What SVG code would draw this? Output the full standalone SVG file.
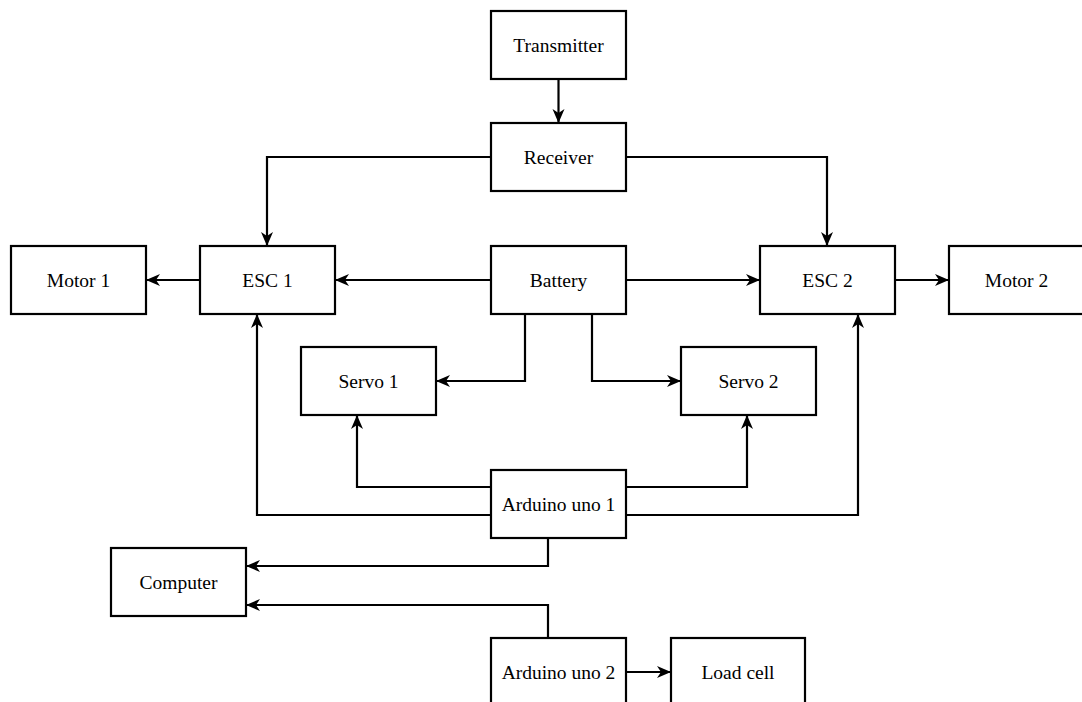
<svg xmlns="http://www.w3.org/2000/svg" width="1082" height="702" viewBox="0 0 1082 702">
<style>
.box{fill:#fff;stroke:#000;stroke-width:2.2}
.lbl{font-family:"Liberation Serif","Times New Roman",serif;font-size:19.5px;fill:#000;text-anchor:middle}
.c{fill:none;stroke:#000;stroke-width:2.2;marker-end:url(#arr)}
</style>
<defs>
<marker id="arr" markerUnits="userSpaceOnUse" markerWidth="15" markerHeight="13" refX="14" refY="6.5" orient="auto" viewBox="0 0 15 13">
<path d="M0 0.5 L14 6.5 L0 12.5 L4 6.5 Z" fill="#000"/>
</marker>
</defs>
<rect width="1082" height="702" fill="#fff"/>
<g id="connectors">
<path class="c" d="M558.5 79 V123"/>
<path class="c" d="M491 157 H267 V246"/>
<path class="c" d="M626 157 H827 V246"/>
<path class="c" d="M200 280 H146"/>
<path class="c" d="M491 280 H335"/>
<path class="c" d="M626 280 H760"/>
<path class="c" d="M895 280 H949"/>
<path class="c" d="M525 314 V381 H436"/>
<path class="c" d="M592 314 V381 H681"/>
<path class="c" d="M491 487 H357 V415"/>
<path class="c" d="M626 487 H747 V415"/>
<path class="c" d="M491 515 H257 V314"/>
<path class="c" d="M626 515 H858 V314"/>
<path class="c" d="M548 538 V566 H246"/>
<path class="c" d="M548 638 V605 H246"/>
<path class="c" d="M626 672 H671"/>
</g>
<g id="transmitter"><rect class="box" x="491" y="11" width="135" height="68"/><text class="lbl" x="558.5" y="51.5">Transmitter</text></g>
<g id="receiver"><rect class="box" x="491" y="123" width="135" height="68"/><text class="lbl" x="558.5" y="163.5">Receiver</text></g>
<g id="motor1"><rect class="box" x="11" y="246" width="135" height="68"/><text class="lbl" x="78.5" y="286.5">Motor 1</text></g>
<g id="esc1"><rect class="box" x="200" y="246" width="135" height="68"/><text class="lbl" x="267.5" y="286.5">ESC 1</text></g>
<g id="battery"><rect class="box" x="491" y="246" width="135" height="68"/><text class="lbl" x="558.5" y="286.5">Battery</text></g>
<g id="esc2"><rect class="box" x="760" y="246" width="135" height="68"/><text class="lbl" x="827.5" y="286.5">ESC 2</text></g>
<g id="motor2"><rect class="box" x="949" y="246" width="135" height="68"/><text class="lbl" x="1016.5" y="286.5">Motor 2</text></g>
<g id="servo1"><rect class="box" x="301" y="347" width="135" height="68"/><text class="lbl" x="368.5" y="387.5">Servo 1</text></g>
<g id="servo2"><rect class="box" x="681" y="347" width="135" height="68"/><text class="lbl" x="748.5" y="387.5">Servo 2</text></g>
<g id="arduino1"><rect class="box" x="491" y="470" width="135" height="68"/><text class="lbl" x="558.5" y="510.5">Arduino uno 1</text></g>
<g id="computer"><rect class="box" x="111" y="548" width="135" height="68"/><text class="lbl" x="178.5" y="588.5">Computer</text></g>
<g id="arduino2"><rect class="box" x="491" y="638" width="135" height="68"/><text class="lbl" x="558.5" y="678.5">Arduino uno 2</text></g>
<g id="loadcell"><rect class="box" x="671" y="638" width="134" height="68"/><text class="lbl" x="738" y="678.5">Load cell</text></g>
</svg>
